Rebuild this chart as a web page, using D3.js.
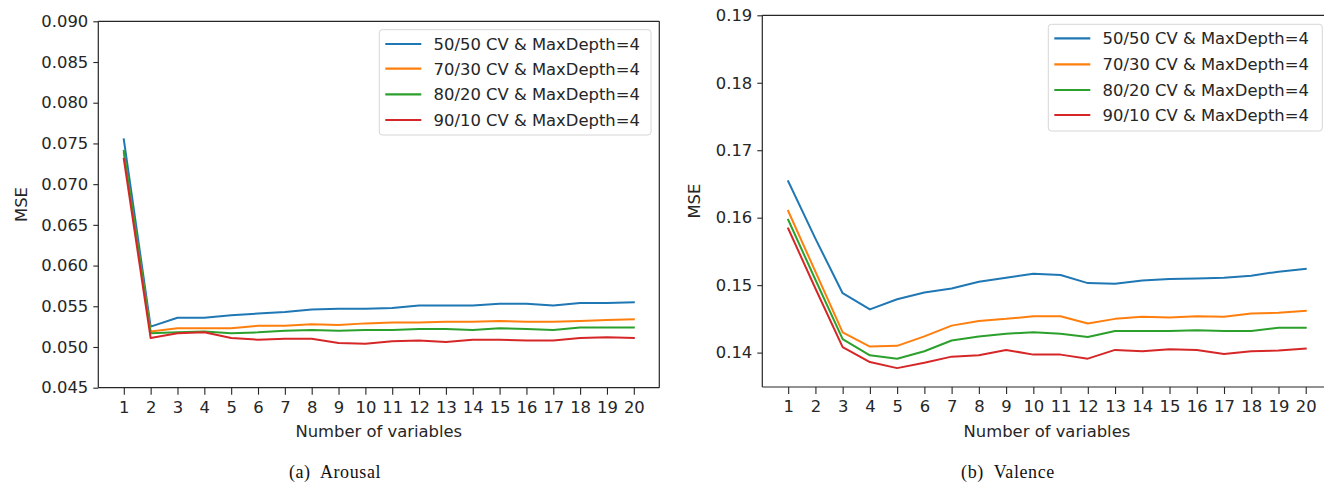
<!DOCTYPE html>
<html>
<head>
<meta charset="utf-8">
<script src="https://cdn.jsdelivr.net/npm/d3@7"></script>
<style>
  html, body { margin: 0; padding: 0; background: #fff; }
  svg { display: block; }
  text { font-family: "DejaVu Sans", sans-serif; }
</style>
</head>
<body>
<svg id="chart" width="1324" height="482"></svg>
<script>
// ---------- data ----------
const variables = d3.range(1, 21);
const seriesNames = [
  "50/50 CV & MaxDepth=4",
  "70/30 CV & MaxDepth=4",
  "80/20 CV & MaxDepth=4",
  "90/10 CV & MaxDepth=4"
];
const seriesColors = ["#1f77b4", "#ff7f0e", "#2ca02c", "#d62728"];

// (a) Arousal
const arousal5050 = [0.0755, 0.0525, 0.0536, 0.0536, 0.0539, 0.0541, 0.0543, 0.0546, 0.0547, 0.0547,
                     0.0548, 0.0551, 0.0551, 0.0551, 0.0553, 0.0553, 0.0551, 0.0554, 0.0554, 0.0555];
const arousal7030 = [0.0738, 0.0519, 0.0523, 0.0523, 0.0523, 0.0526, 0.0526, 0.0528, 0.0527, 0.0529,
                     0.0530, 0.0530, 0.0531, 0.0531, 0.0532, 0.0531, 0.0531, 0.0532, 0.0533, 0.0534];
const arousal8020 = [0.0741, 0.0517, 0.0518, 0.0519, 0.0517, 0.0518, 0.0520, 0.0521, 0.0520, 0.0521,
                     0.0521, 0.0522, 0.0522, 0.0521, 0.0523, 0.0522, 0.0521, 0.0524, 0.0524, 0.0524];
const arousal9010 = [0.0731, 0.0511, 0.0517, 0.0518, 0.0511, 0.0509, 0.0510, 0.0510, 0.0505, 0.0504,
                     0.0507, 0.0508, 0.0506, 0.0509, 0.0509, 0.0508, 0.0508, 0.0511, 0.0512, 0.0511];
const arousalTicks = [0.045, 0.050, 0.055, 0.060, 0.065, 0.070, 0.075, 0.080, 0.085, 0.090];

// (b) Valence
const valence5050 = [0.1654, 0.1569, 0.1488, 0.1464, 0.1479, 0.1489, 0.1495, 0.1505, 0.1511, 0.1517,
                     0.1515, 0.1503, 0.1502, 0.1507, 0.1509, 0.1510, 0.1511, 0.1514, 0.1520, 0.1524];
const valence7030 = [0.1610, 0.1520, 0.1430, 0.1409, 0.1410, 0.1424, 0.1440, 0.1447, 0.1450, 0.1454,
                     0.1454, 0.1443, 0.1450, 0.1453, 0.1452, 0.1454, 0.1453, 0.1458, 0.1459, 0.1462];
const valence8020 = [0.1597, 0.1508, 0.1420, 0.1396, 0.1391, 0.1402, 0.1418, 0.1424, 0.1428, 0.1430,
                     0.1428, 0.1423, 0.1432, 0.1432, 0.1432, 0.1433, 0.1432, 0.1432, 0.1437, 0.1437];
const valence9010 = [0.1584, 0.1495, 0.1408, 0.1386, 0.1377, 0.1385, 0.1394, 0.1396, 0.1404, 0.1397,
                     0.1397, 0.1391, 0.1404, 0.1402, 0.1405, 0.1404, 0.1398, 0.1402, 0.1403, 0.1406];
const valenceTicks = [0.14, 0.15, 0.16, 0.17, 0.18, 0.19];

const xLabel = "Number of variables";
const yLabel = "MSE";

// ---------- layout ----------
const panels = [
  {
    series: [arousal5050, arousal7030, arousal8020, arousal9010],
    yDomain: [0.045, 0.090], yTicks: arousalTicks, yFmt: d3.format(".3f"),
    left: 98.3, right: 659.3, top: 21.3, bottom: 387.7,
    rightSpine: true,
    legend: { x: 379.3, y: 29.7, w: 271.7, h: 105.3, rows: [14.3, 39.0, 64.6, 90.3] },
    yLabelX: 21, caption: "(a)  Arousal", captionX: 335
  },
  {
    series: [valence5050, valence7030, valence8020, valence9010],
    yDomain: [0.1349, 0.19], yTicks: valenceTicks, yFmt: d3.format(".2f"),
    left: 762.3, right: 1331.6, top: 15.3, bottom: 387.0,
    rightSpine: false,
    legend: { x: 1048.3, y: 24.3, w: 274, h: 106.7, rows: [14.0, 40.0, 65.7, 90.7] },
    yLabelX: 694, caption: "(b)  Valence", captionX: 1008
  }
];

const svg = d3.select("#chart");
const axisColor = "#262626";
const fontSize = "16.4px";

panels.forEach(p => {
  const x = d3.scaleLinear().domain([0.05, 20.95]).range([p.left, p.right]);
  const y = d3.scaleLinear().domain(p.yDomain).range([p.bottom, p.top]);
  const g = svg.append("g");

  // lines
  const line = d3.line().x((d, i) => x(variables[i])).y(d => y(d));
  p.series.forEach((s, k) => {
    g.append("path")
      .datum(s)
      .attr("d", line)
      .attr("fill", "none")
      .attr("stroke", seriesColors[k])
      .attr("stroke-width", 2)
      .attr("stroke-linejoin", "round")
      .attr("stroke-linecap", "square");
  });

  // spines
  g.append("line").attr("x1", p.left).attr("x2", p.right).attr("y1", p.top).attr("y2", p.top)
    .attr("stroke", axisColor).attr("stroke-width", 1.2);
  if (p.rightSpine) {
    g.append("line").attr("x1", p.right).attr("x2", p.right).attr("y1", p.top).attr("y2", p.bottom)
      .attr("stroke", axisColor).attr("stroke-width", 1.2);
  }

  // axes
  const xAxis = d3.axisBottom(x).tickValues(variables).tickFormat(d3.format("d"))
    .tickSize(7).tickPadding(6.3);
  const gx = g.append("g").attr("transform", `translate(0,${p.bottom})`).call(xAxis);
  gx.select(".domain").attr("d", `M${p.left},0H${p.right}`);

  const yAxis = d3.axisLeft(y).tickValues(p.yTicks).tickFormat(p.yFmt)
    .tickSize(5).tickPadding(5);
  const gy = g.append("g").attr("transform", `translate(${p.left},0)`).call(yAxis);
  gy.select(".domain").attr("d", `M0,${p.top}V${p.bottom}`);

  [gx, gy].forEach(a => {
    a.selectAll(".domain").attr("stroke", axisColor).attr("stroke-width", 1.2);
    a.selectAll(".tick line").attr("stroke", axisColor).attr("stroke-width", 1.1);
    a.selectAll(".tick text").attr("fill", "#262626")
      .style("font-family", '"DejaVu Sans", sans-serif').style("font-size", fontSize);
  });

  // axis labels
  g.append("text")
    .attr("x", (p.left + p.right) / 2).attr("y", 436.5)
    .attr("text-anchor", "middle").attr("fill", "#262626")
    .style("font-size", fontSize).text(xLabel);
  g.append("text")
    .attr("transform", `translate(${p.yLabelX + 5.5},${(p.top + p.bottom) / 2}) rotate(-90)`)
    .attr("text-anchor", "middle").attr("fill", "#262626")
    .style("font-size", fontSize).text(yLabel);

  // legend
  const L = p.legend;
  const lg = g.append("g").attr("transform", `translate(${L.x},${L.y})`);
  lg.append("rect").attr("width", L.w).attr("height", L.h).attr("rx", 3)
    .attr("fill", "#fff").attr("fill-opacity", 0.85)
    .attr("stroke", "#d6d6d6").attr("stroke-width", 1);
  seriesNames.forEach((name, k) => {
    const ry = L.rows[k];
    lg.append("line").attr("x1", 6).attr("x2", 42).attr("y1", ry).attr("y2", ry)
      .attr("stroke", seriesColors[k]).attr("stroke-width", 2.2);
    lg.append("text").attr("x", 54.3).attr("y", ry).attr("dy", "0.36em")
      .attr("fill", "#262626").style("font-size", fontSize).text(name);
  });

  // caption
  svg.append("text")
    .attr("x", p.captionX).attr("y", 477.5)
    .attr("text-anchor", "middle").attr("fill", "#111")
    .style("font-family", '"Liberation Serif", "Times New Roman", serif')
    .style("font-size", "18px").style("white-space", "pre")
    .style("letter-spacing", "0.6px")
    .attr("xml:space", "preserve")
    .text(p.caption);
});
</script>
</body>
</html>
